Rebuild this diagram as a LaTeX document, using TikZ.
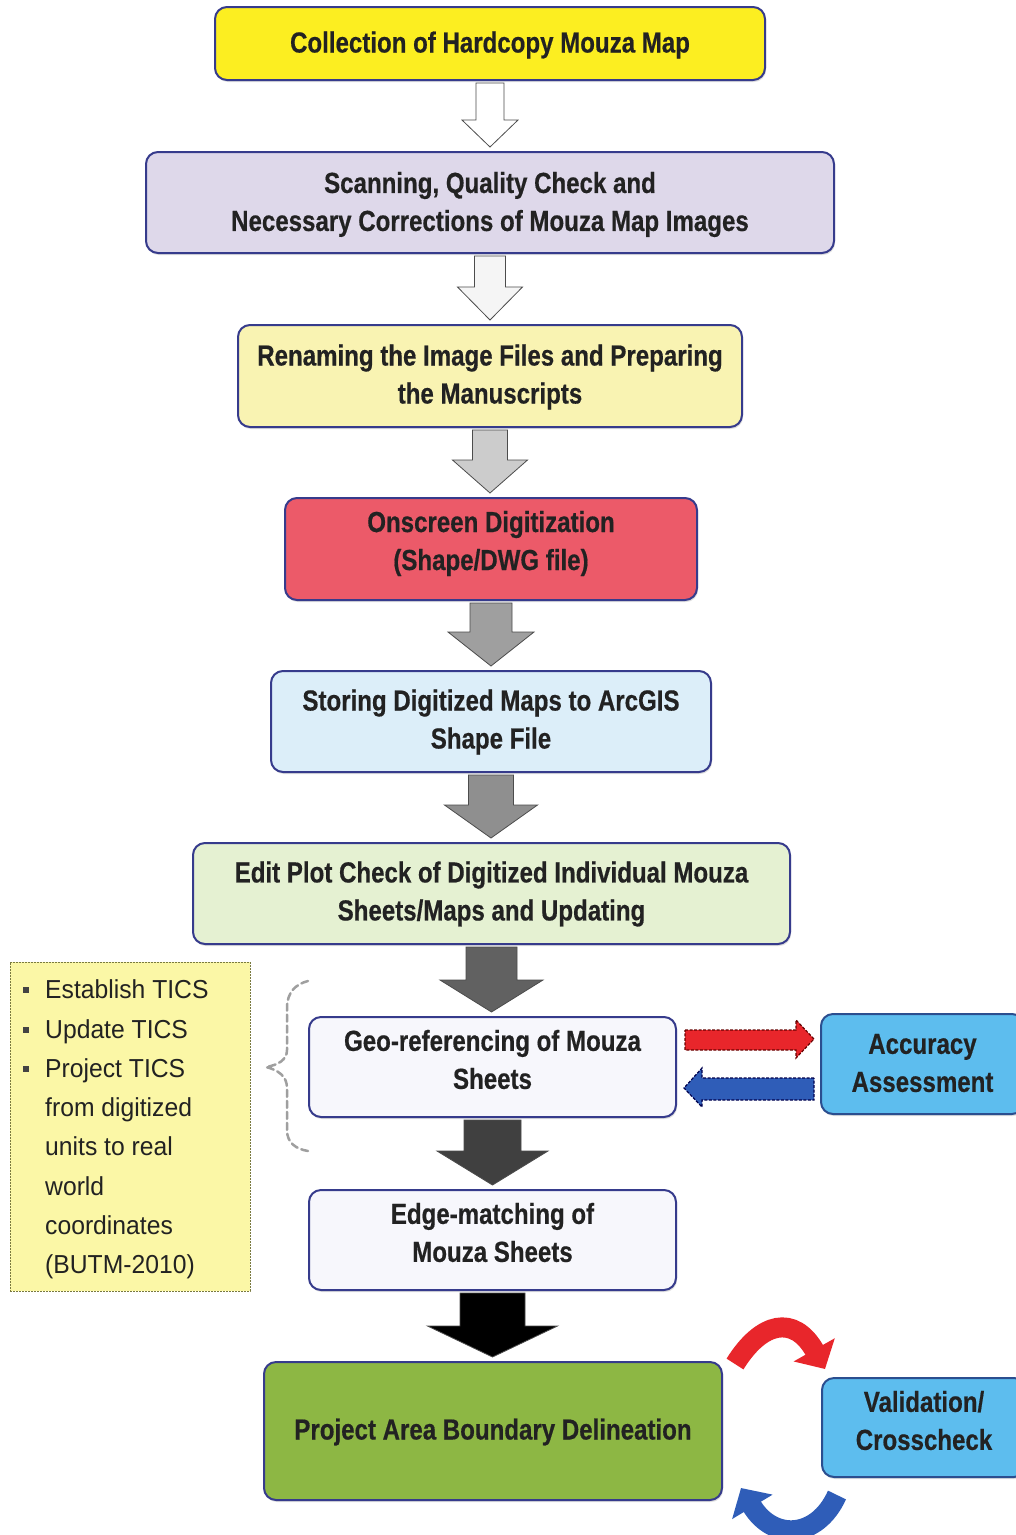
\documentclass[tikz,border=0pt]{standalone}
\usepackage{fontspec}
\setmainfont{Liberation Sans}
\newfontfamily\boxfont[FakeStretch=0.83,FakeBold=0.5]{Liberation Sans}
\newfontfamily\notefont[FakeStretch=0.95]{Liberation Sans}
\usetikzlibrary{arrows.meta,calc,shadows}

\definecolor{stageborder}{HTML}{363B8C}
\definecolor{textdark}{HTML}{222222}
\definecolor{fillA}{HTML}{FCEE21}
\definecolor{fillB}{HTML}{DED8EA}
\definecolor{fillC}{HTML}{F9F3B2}
\definecolor{fillD}{HTML}{EC5A69}
\definecolor{fillE}{HTML}{DCEEF9}
\definecolor{fillF}{HTML}{E5F1D2}
\definecolor{fillG}{HTML}{F7F7FC}
\definecolor{fillH}{HTML}{8DB744}
\definecolor{sideblue}{HTML}{5DBDEE}
\definecolor{sideborder}{HTML}{2B4E8F}
\definecolor{notefill}{HTML}{FBF7A6}
\definecolor{noteborder}{HTML}{7A7A40}
\definecolor{loopred}{HTML}{E8262B}
\definecolor{loopblue}{HTML}{2F5DB8}

\tikzset{
  stage/.style={draw=stageborder, line width=2pt, rounded corners=12pt, inner sep=0pt,
    drop shadow={shadow xshift=1pt, shadow yshift=-2pt, opacity=0.25}},
  stagetext/.style={align=center, text=textdark, inner sep=0pt,
    font=\boxfont\bfseries\fontsize{29}{38}\selectfont},
  sidebox/.style={stage, draw=sideborder, fill=sideblue},
  notebox/.style={draw=noteborder, line width=1pt, dash pattern=on 2pt off 1pt,
    fill=notefill, inner sep=0pt},
  noteline/.style={anchor=base west, inner sep=0pt, text=textdark,
    font=\notefont\fontsize{26}{39}\selectfont},
  bulletsq/.style={fill=textdark!85, minimum size=6.5pt, inner sep=0pt},
  flowarrowstyle/.style={draw=gray!60!black, line width=0.8pt, line join=miter},
  fatarrow/.style={line width=1.2pt, dash pattern=on 3pt off 1.5pt, line join=miter},
  loop/.style={line width=20pt, line cap=butt}
}

% Block arrow from the bottom of one stage to the top of the next:
% #1 from, #2 to, #3 shaft half width, #4 head half width, #5 head length, #6 fill
\newcommand\flowarrow[6]{%
  \path[flowarrowstyle, fill=#6] let \p1=(#1.south), \p2=(#2.north) in
    (\x1-#3pt,\y1-2pt) -- (\x1+#3pt,\y1-2pt) -- (\x1+#3pt,\y2+#5pt+4pt)
    -- (\x1+#4pt,\y2+#5pt+4pt) -- (\x1,\y2+4pt) -- (\x1-#4pt,\y2+#5pt+4pt)
    -- (\x1-#3pt,\y2+#5pt+4pt) -- cycle;}

\begin{document}
\begin{tikzpicture}[x=1pt,y=-1pt]
\useasboundingbox (0,0) rectangle (1016,1535);
\clip (0,0) rectangle (1016,1535);
\fill[white] (0,0) rectangle (1016,1535);

% main process chain: boxes
\node[stage, fill=fillA, minimum width=550pt, minimum height=73pt] (collect) at (490,43.5) {};
\node[stage, fill=fillB, minimum width=688pt, minimum height=101pt] (scan) at (490,202.5) {};
\node[stage, fill=fillC, minimum width=504pt, minimum height=102pt] (rename) at (490,376) {};
\node[stage, fill=fillD, minimum width=412pt, minimum height=102pt] (digit) at (491,549) {};
\node[stage, fill=fillE, minimum width=440pt, minimum height=101pt] (store) at (491,721.5) {};
\node[stage, fill=fillF, minimum width=597pt, minimum height=101pt] (edit) at (491.5,893.5) {};
\node[stage, fill=fillG, minimum width=367pt, minimum height=100pt] (geo) at (492.5,1067) {};
\node[stage, fill=fillG, minimum width=367pt, minimum height=100pt] (edge) at (492.5,1240) {};
\node[stage, fill=fillH, minimum width=458pt, minimum height=138pt] (pab) at (493,1431) {};

% main process chain: labels
\node[stagetext] (collect-t) at (490,45) {Collection of Hardcopy Mouza Map};
\node[stagetext] (scan-t) at (490,204.5)
  {Scanning, Quality Check and\\Necessary Corrections of Mouza Map Images};
\node[stagetext] (rename-t) at (490,377)
  {Renaming the Image Files and Preparing\\the Manuscripts};
\node[stagetext] (digit-t) at (491,543.5) {Onscreen Digitization\\(Shape/DWG file)};
\node[stagetext] (store-t) at (491,722) {Storing Digitized Maps to ArcGIS\\Shape File};
\node[stagetext] (edit-t) at (491.5,894) 
  {Edit Plot Check of Digitized Individual Mouza\\Sheets/Maps and Updating};
\node[stagetext] (geo-t) at (492.5,1059.5) {Geo-referencing of Mouza\\Sheets};
\node[stagetext] (edge-t) at (492.5,1232.5) {Edge-matching of\\Mouza Sheets};
\node[stagetext] (pab-t) at (493,1432) {Project Area Boundary Delineation};

% side checks
\node[sidebox, minimum width=203pt, minimum height=100pt] (acc) at (922.5,1064) {};
\node[stagetext] (acc-t) at (922.5,1063) {Accuracy\\Assessment};
\node[sidebox, minimum width=204pt, minimum height=99pt] (val) at (924,1427.5) {};
\node[stagetext] (val-t) at (924,1420.5) {Validation/\\Crosscheck};

% block arrows, getting darker down the chain
\flowarrow{collect}{scan}{14}{28}{27}{white}
\flowarrow{scan}{rename}{15.5}{32.5}{33}{gray!8}
\flowarrow{rename}{digit}{17.5}{37.5}{33}{gray!40}
\flowarrow{digit}{store}{21}{43}{34}{gray!75}
\flowarrow{store}{edit}{22.5}{46.5}{33}{gray!88}
\flowarrow{edit}{geo}{25.5}{51.5}{32}{black!62}
\flowarrow{geo}{edge}{28.5}{55.5}{34}{black!75}
\flowarrow{edge}{pab}{32.5}{65}{31}{black}

% exchange with the accuracy assessment
\draw[fatarrow, fill=loopred, draw=red!40!black]
  ($(geo.east)+(8,-37)$) coordinate (rs) -- ++(111,0) -- ++(0,-10) -- ++(18,19)
  -- ++(-18,19) -- ++(0,-8) -- ++(-111,0) -- cycle;
\draw[fatarrow, fill=loopblue, draw=blue!30!black]
  ($(acc.west)+(-6,14)$) coordinate (bs) -- ++(-112,0) -- ++(0,-10) -- ++(-18,20)
  -- ++(18,19) -- ++(0,-7) -- ++(112,0) -- cycle;

% validation loop
\coordinate (redstart) at ($(pab.north east)+(12,3)$);
\coordinate (redend) at ($(val.north west)+(4,-8)$);
\draw[loop, loopred, -{Triangle[length=22pt,width=46pt]}]
  (redstart) .. controls +(26,-42) and +(-31,-55) .. (redend);
\coordinate (bluestart) at ($(val.south west)+(16,17)$);
\coordinate (blueend) at ($(pab.south east)+(18,-13)$);
\draw[loop, loopblue, -{Triangle[length=22pt,width=46pt]}]
  (bluestart) .. controls +(-20,44) and +(32,53) .. (blueend);

% TICS note with its brace
\node[notebox, minimum width=240pt, minimum height=329pt] (tics) at (130,1126.5) {};
\foreach \i/\yy/\t in {1/998/Establish TICS, 2/1038/Update TICS, 3/1077/Project TICS,
    4/1116/from digitized, 5/1155/units to real, 6/1195/world,
    7/1234/coordinates, 8/1273/(BUTM-2010)}{
  \node[noteline] (tics\i) at (45,\yy) {\t};
}
\node[bulletsq] (bul1) at (26,990) {};
\node[bulletsq] (bul2) at (26,1030) {};
\node[bulletsq] (bul3) at (26,1069) {};

\draw[gray!75, line width=2.5pt, dash pattern=on 7pt off 4pt, line cap=round]
  (308,981) .. controls (296,984) and (287,992) .. (287,1008) -- (287,1050)
  .. controls (287,1060) and (278,1065) .. (266,1067)
  .. controls (278,1070) and (287,1076) .. (287,1088) -- (287,1130)
  .. controls (287,1143) and (296,1149) .. (308,1151);
\end{tikzpicture}
\end{document}
